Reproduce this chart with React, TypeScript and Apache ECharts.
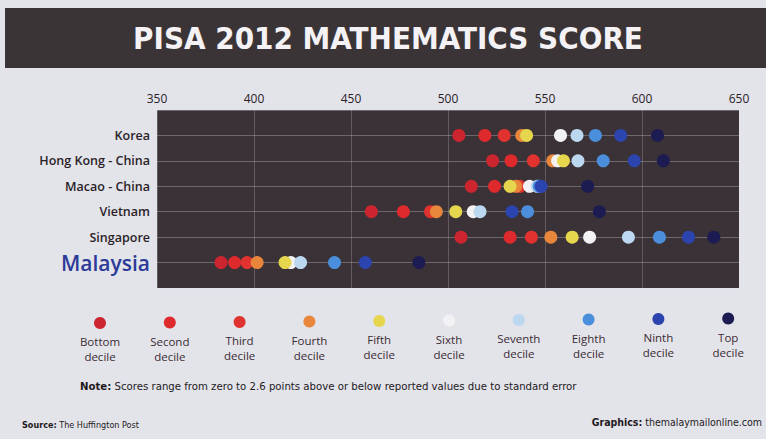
import React, { useEffect, useRef } from "react";
import * as echarts from "echarts";

const countries = ["Korea", "Hong Kong - China", "Macao - China", "Vietnam", "Singapore", "Malaysia"];
const decileNames = ["Bottom", "Second", "Third", "Fourth", "Fifth", "Sixth", "Seventh", "Eighth", "Ninth", "Top"];
const xTicks = [350, 400, 450, 500, 550, 600, 650];

// scores per decile, one value per country (same order as countries)
const bottomDecile = [505.6, 523, 512, 460.5, 506.7, 383];
const secondDecile = [519, 532.5, 524, 477, 532, 390];
const thirdDecile = [529, 544, 537, 491, 543, 396.4];
const fourthDecile = [538, 554, 535, 494, 553, 401.6];
const fifthDecile = [540.5, 559.5, 532, 504, 564, 416];
const sixthDecile = [558, 556.5, 542, 513, 573, 419];
const seventhDecile = [566.5, 567, 546, 516.5, 593, 424];
const eighthDecile = [576, 580, 547, 541, 609, 441.5];
const ninthDecile = [589, 596, 548, 533, 624, 457.4];
const topDecile = [608, 611, 572, 578, 637, 485];

const decileValues = [
  bottomDecile, secondDecile, thirdDecile, fourthDecile, fifthDecile,
  sixthDecile, seventhDecile, eighthDecile, ninthDecile, topDecile,
];

const decileColors = [
  "#cc2530", "#de2a2c", "#e0332f", "#e8863c", "#e6d64e",
  "#f2f2f4", "#bcd8f0", "#4a8edc", "#2c44ae", "#1d1c52",
];

const BG = "#e3e3ea";
const DARK = "#3a3236";

export default function App() {
  const ref = useRef<HTMLDivElement>(null);

  useEffect(() => {
    if (!ref.current) return;
    const chart = echarts.init(ref.current, undefined, { renderer: "svg" });

    const series = decileValues.map((vals, i) => ({
      type: "scatter",
      name: decileNames[i] + " decile",
      symbol: "circle",
      symbolSize: 13,
      itemStyle: { color: decileColors[i], opacity: 1 },
      z: i === 4 ? 3 : 2,
      data: vals.map((v, r) => [v, r]),
    }));

    const legendGraphics: any[] = [];
    decileNames.forEach((n, i) => {
      const cx = 100 + i * 69.8;
      const cy = 323 - i * 0.5;
      legendGraphics.push({
        type: "circle",
        shape: { cx, cy, r: 6 },
        style: { fill: decileColors[i] },
      });
      legendGraphics.push({
        type: "text",
        x: cx,
        y: cy + 11,
        style: {
          text: n + "\ndecile",
          fill: "#3a2c33",
          font: "11.5px 'Open Sans', sans-serif",
          align: "center",
          verticalAlign: "top",
          lineHeight: 15,
        },
      });
    });

    const option: any = {
      animation: false,
      backgroundColor: BG,
      grid: {
        left: 157,
        right: 27,
        top: 110,
        bottom: 151,
        show: true,
        backgroundColor: DARK,
        borderWidth: 0,
      },
      xAxis: {
        type: "value",
        position: "top",
        min: 350,
        max: 650,
        interval: 50,
        axisLine: { show: false },
        axisTick: { show: false },
        axisLabel: {
          margin: 6,
          color: "#2a2228",
          fontSize: 12,
          fontFamily: "'Open Sans', sans-serif",
          formatter: (v: number) => (xTicks.includes(v) ? String(v) : ""),
        },
        splitLine: { show: true, lineStyle: { color: "rgba(230,230,240,0.22)", width: 1 } },
      },
      yAxis: {
        type: "value",
        inverse: true,
        min: -1,
        max: 6,
        interval: 1,
        axisLine: { show: false },
        axisTick: { show: false },
        axisLabel: {
          margin: 7,
          formatter: (v: number) => {
            const name = countries[v];
            if (!name) return "";
            return v === countries.length - 1 ? `{m|${name}}` : `{c|${name}}`;
          },
          rich: {
            c: {
              color: "#2b1f27",
              fontSize: 12.5,
              fontWeight: 600,
              fontFamily: "'Open Sans', sans-serif",
            },
            m: {
              color: "#2c3a98",
              fontSize: 21,
              fontWeight: 600,
              fontFamily: "'Open Sans', sans-serif",
            },
          },
        },
        splitLine: { show: true, lineStyle: { color: "rgba(230,230,240,0.3)", width: 1 } },
      },
      series,
      graphic: [
        {
          type: "rect",
          shape: { x: 5, y: 8, width: 761, height: 60 },
          style: { fill: "#3b3437" },
        },
        {
          type: "text",
          x: 388,
          y: 38,
          style: {
            text: "PISA 2012 MATHEMATICS SCORE",
            fill: "#f4f2f4",
            font: "bold 31px 'DejaVu Sans Condensed', 'Liberation Sans Narrow', 'Roboto', sans-serif",
            align: "center",
            verticalAlign: "middle",
          },
        },
        ...legendGraphics,
        {
          type: "text",
          x: 80,
          y: 386,
          style: {
            text: "{b|Note:} Scores range from zero to 2.6 points above or below reported values due to standard error",
            verticalAlign: "middle",
            rich: {
              b: {
                fill: "#1e1a1c",
                font: "bold 11.3px 'Liberation Sans Narrow', 'DejaVu Sans Condensed', sans-serif",
              },
            },
            fill: "#1e1a1c",
            font: "11.3px 'Liberation Sans Narrow', 'DejaVu Sans Condensed', sans-serif",
          },
        },
        {
          type: "text",
          x: 22,
          y: 425,
          style: {
            text: "{b|Source:} The Huffington Post",
            verticalAlign: "middle",
            rich: {
              b: {
                fill: "#1e1a1c",
                font: "bold 9px 'Liberation Sans Narrow', 'DejaVu Sans Condensed', sans-serif",
              },
            },
            fill: "#1e1a1c",
            font: "9px 'Liberation Sans Narrow', 'DejaVu Sans Condensed', sans-serif",
          },
        },
        {
          type: "text",
          x: 762,
          y: 422,
          style: {
            text: "{b|Graphics:} themalaymailonline.com",
            align: "right",
            verticalAlign: "middle",
            rich: {
              b: {
                fill: "#1e1a1c",
                font: "bold 10.5px 'Liberation Sans Narrow', 'DejaVu Sans Condensed', sans-serif",
              },
            },
            fill: "#1e1a1c",
            font: "10.5px 'Liberation Sans Narrow', 'DejaVu Sans Condensed', sans-serif",
          },
        },
      ],
    };

    chart.setOption(option);
    return () => chart.dispose();
  }, []);

  return (
    <div
      ref={ref}
      style={{ position: "fixed", left: 0, top: 0, width: 766, height: 439 }}
    />
  );
}
